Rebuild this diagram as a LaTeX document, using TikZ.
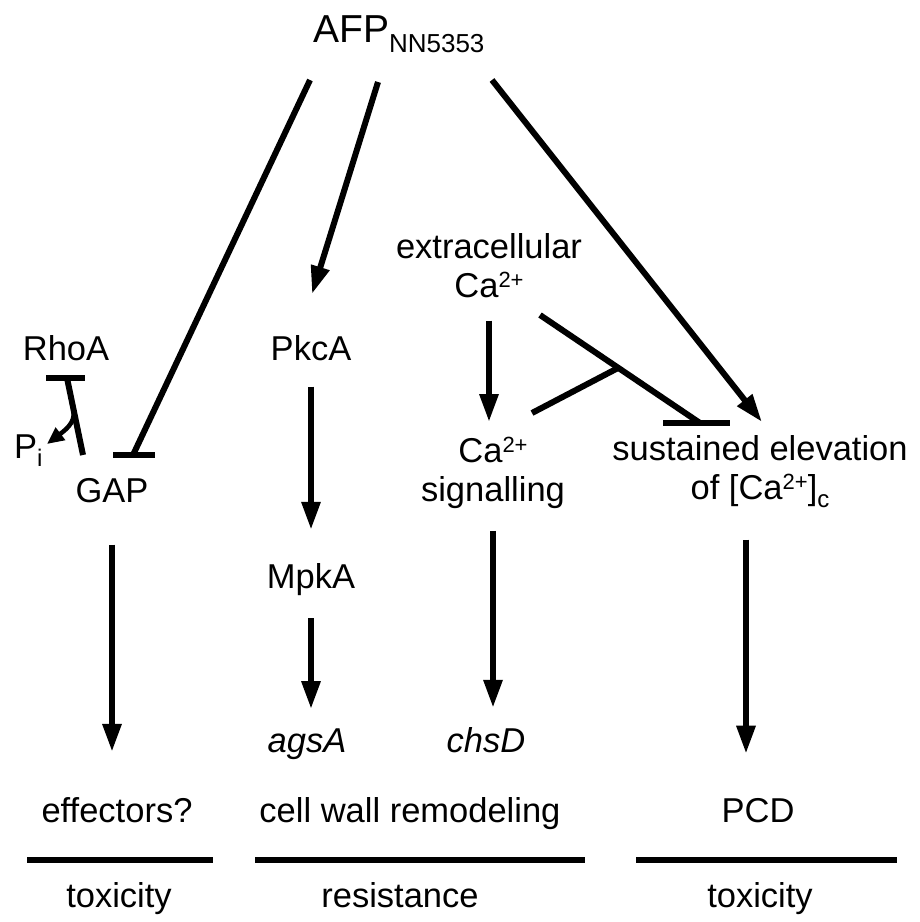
\documentclass[tikz,border=0pt]{standalone}
\usepackage{fontspec}
\setmainfont{Liberation Sans}
\usetikzlibrary{arrows.meta}
\newcommand{\lab}{\fontsize{34.5}{39}\selectfont}
\newcommand{\hightext}[1]{\raisebox{10pt}{\fontsize{22}{22}\selectfont #1}}
\newcommand{\lowtext}[1]{\raisebox{-8pt}{\fontsize{24}{24}\selectfont #1}}

\begin{document}
\begin{tikzpicture}[x=1pt, y=-1pt, every node/.style={inner sep=0pt, font=\lab},
    lbl/.style={anchor=base},
    act/.style={line width=6pt, -{Triangle[length=28pt,width=18pt]}},
    inh/.style={line width=6pt},
    rule/.style={line width=6pt}]
    \useasboundingbox (0,0) rectangle (920,922);
    \node[anchor=base west] (afp) at (313,42)
          {{\fontsize{39}{39}\selectfont AFP}\raisebox{-10pt}{\fontsize{26}{26}\selectfont NN5353}};
    \node[lbl] (rhoa) at (66,360) {RhoA};
    \node[anchor=base west] (pi) at (14,458) {P\lowtext{i}};
    \node[lbl] (gap) at (112,502) {GAP};
    \node[lbl] (pkca) at (311,360) {PkcA};
    \node[lbl] (mpka) at (311,588) {MpkA};
    \node[lbl] (agsa) at (307,752) {\itshape agsA};
    \node[lbl] (chsd) at (486,752) {\itshape chsD};
    \node[align=center, anchor=north] (extca) at (489,233) {extracellular\\Ca\hightext{2+}};
    \node[align=center, anchor=north] (casig) at (493,437) {Ca\hightext{2+}\\signalling};
    \node[align=center, anchor=north] (elev) at (760,435)
          {sustained elevation\\of [Ca\hightext{2+}]\lowtext{c}};
    \node[lbl] (eff) at (117,822) {effectors?};
    \node[lbl] (cwr) at (410,822) {cell wall remodeling};
    \node[lbl] (pcd) at (758,822) {PCD};
    \node[lbl] (tox1) at (119,907) {toxicity};
    \node[lbl] (res) at (400,907) {resistance};
    \node[lbl] (tox2) at (760,907) {toxicity};

    \coordinate (afp-l) at (310,80);
    \coordinate (afp-m) at (378,82);
    \coordinate (afp-r) at (492,80);
    \coordinate (gap-inh) at (133,455);
    \coordinate (pkca-in) at (312,294);
    \coordinate (elev-in) at (762,422);
    \coordinate (ca-out) at (540,315);
    \coordinate (elev-inh) at (700,423);
    \coordinate (sig-out) at (532,413);
    \coordinate (junc) at (618,368);
    \coordinate (rhoa-inh) at (67,378);
    \coordinate (gap-out) at (83,455);
    \coordinate (pi-src) at (72,404);
    \coordinate (pi-in) at (47,444);

    \draw[inh] (afp-l) -- (gap-inh);
    \draw[inh] ([xshift=-20pt]gap-inh) -- ([xshift=22pt]gap-inh);
    \draw[act] (afp-m) -- (pkca-in);
    \draw[act] (afp-r) -- (elev-in);
    \draw[inh] (ca-out) -- (elev-inh);
    \draw[inh] ([xshift=-37pt]elev-inh) -- ([xshift=30pt]elev-inh);
    \draw[inh] (sig-out) -- (junc);
    \draw[inh] (rhoa-inh) -- (gap-out);
    \draw[inh] ([xshift=-21pt]rhoa-inh) -- ([xshift=18pt]rhoa-inh);
    \draw[line width=4.5pt, -{Triangle[length=17pt,width=15pt]}]
          (pi-src) .. controls (78,420) and (68,428) .. (pi-in);

    \draw[act, shorten <=23pt, shorten >=15pt] (extca.south) -- (extca.south |- casig.north);
    \draw[act, shorten <=22pt, shorten >=19pt] (casig.south) -- (casig.south |- chsd.north);
    \draw[act, shorten <=26pt, shorten >=33pt] (pkca.south) -- (pkca.south |- mpka.north);
    \draw[act, shorten <=23pt, shorten >=19pt] (mpka.south) -- (mpka.south |- agsa.north);
    \draw[act, shorten <=42pt, shorten >=45pt] (gap.south) -- (gap.south |- eff.north);
    \draw[act, shorten <=32pt, shorten >=44pt] ([xshift=-14pt]elev.south) -- ([xshift=-14pt]elev.south |- pcd.north);

    \draw[rule] (27,860) -- (213,860);
    \draw[rule] (255,860) -- (585,860);
    \draw[rule] (636,860) -- (897,860);
\end{tikzpicture}
\end{document}
